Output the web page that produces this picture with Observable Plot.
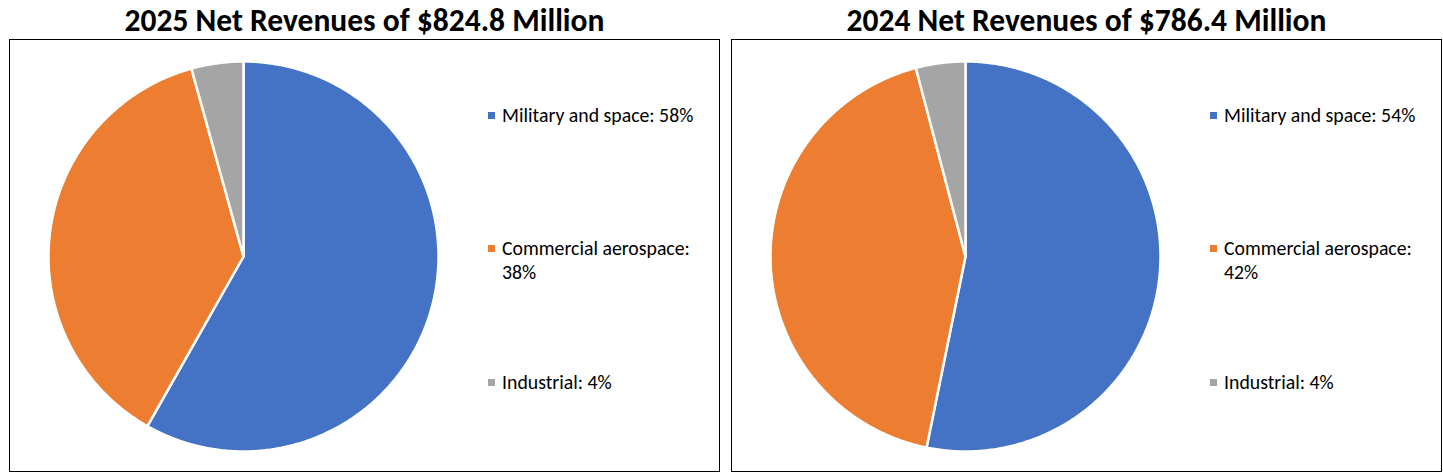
<!DOCTYPE html>
<html>
<head>
<meta charset="utf-8">
<script src="https://cdn.jsdelivr.net/npm/d3@7"></script>
<script src="https://cdn.jsdelivr.net/npm/@observablehq/plot@0.6"></script>
<style>
  html, body { margin: 0; padding: 0; background: #fff; }
  body { width: 1443px; height: 474px; position: relative; overflow: hidden; font-family: Carlito, Lato, "Open Sans", sans-serif; }
  .title { position: absolute; top: 1px; height: 38px; line-height: 38px; text-align: center; font-weight: bold; font-size: 31.5px; color: #000; white-space: nowrap; }
  .box { position: absolute; top: 39px; height: 433px; border: 1px solid #000; box-sizing: border-box; }
  .pie { position: absolute; }
  .leg { position: absolute; font-size: 19.8px; color: #000; line-height: 24px; width: 205px; }
  .sw { position: absolute; width: 7px; height: 7px; }
</style>
</head>
<body>
<script>
// ---- data ----
const categories = ["Military and space", "Commercial aerospace", "Industrial"];
const colors = ["#4472C4", "#ED7D31", "#A5A5A5"];
const share2025 = [58.2, 37.5, 4.3];
const share2024 = [53.2, 42.7, 4.1];
const labels2025 = ["58%", "38%", "4%"];
const labels2024 = ["54%", "42%", "4%"];
const titles = ["2025 Net Revenues of $824.8 Million", "2024 Net Revenues of $786.4 Million"];

const panels = [
  {title: titles[0], shares: share2025, labels: labels2025, left: 9},
  {title: titles[1], shares: share2024, labels: labels2024, left: 731}
];

const R = 195, M = 10;
const legendCenters = [115, 248, 382];

function slicePoints(shares) {
  const arcs = d3.pie().sort(null).value(d => d)(shares);
  const pts = [];
  arcs.forEach((a, i) => {
    const name = categories[i];
    pts.push({name, x: 0, y: 0});
    const n = Math.max(2, Math.ceil((a.endAngle - a.startAngle) / (Math.PI / 360)));
    for (let k = 0; k <= n; k++) {
      const t = a.startAngle + (a.endAngle - a.startAngle) * k / n;
      pts.push({name, x: Math.sin(t), y: Math.cos(t)});
    }
  });
  return pts;
}

panels.forEach(p => {
  const title = document.createElement("div");
  title.className = "title";
  title.style.left = p.left + "px";
  title.style.width = "711px";
  title.textContent = p.title;
  document.body.appendChild(title);

  const box = document.createElement("div");
  box.className = "box";
  box.style.left = p.left + "px";
  box.style.width = "711px";
  document.body.appendChild(box);

  const svg = Plot.plot({
    width: 2 * R + 2 * M,
    height: 2 * R + 2 * M,
    margin: M,
    x: {domain: [-1, 1], axis: null},
    y: {domain: [-1, 1], axis: null},
    color: {domain: categories, range: colors},
    marks: [
      Plot.line(slicePoints(p.shares), {
        x: "x", y: "y", z: "name", fill: "name",
        stroke: "white", strokeWidth: 2.5, strokeLinejoin: "round",
        curve: "linear-closed"
      })
    ]
  });
  const wrap = document.createElement("div");
  wrap.className = "pie";
  wrap.style.left = (p.left + 234 - R - M) + "px";
  wrap.style.top = (256 - R - M) + "px";
  wrap.appendChild(svg);
  document.body.appendChild(wrap);

  categories.forEach((c, i) => {
    const sw = document.createElement("div");
    sw.className = "sw";
    sw.style.background = colors[i];
    sw.style.left = (p.left + 479) + "px";
    sw.style.top = (legendCenters[i] - 3) + "px";
    document.body.appendChild(sw);
    const t = document.createElement("div");
    t.className = "leg";
    t.style.left = (p.left + 493) + "px";
    t.style.top = (legendCenters[i] - 12) + "px";
    t.textContent = c + ": " + p.labels[i];
    document.body.appendChild(t);
  });
});
</script>
</body>
</html>
